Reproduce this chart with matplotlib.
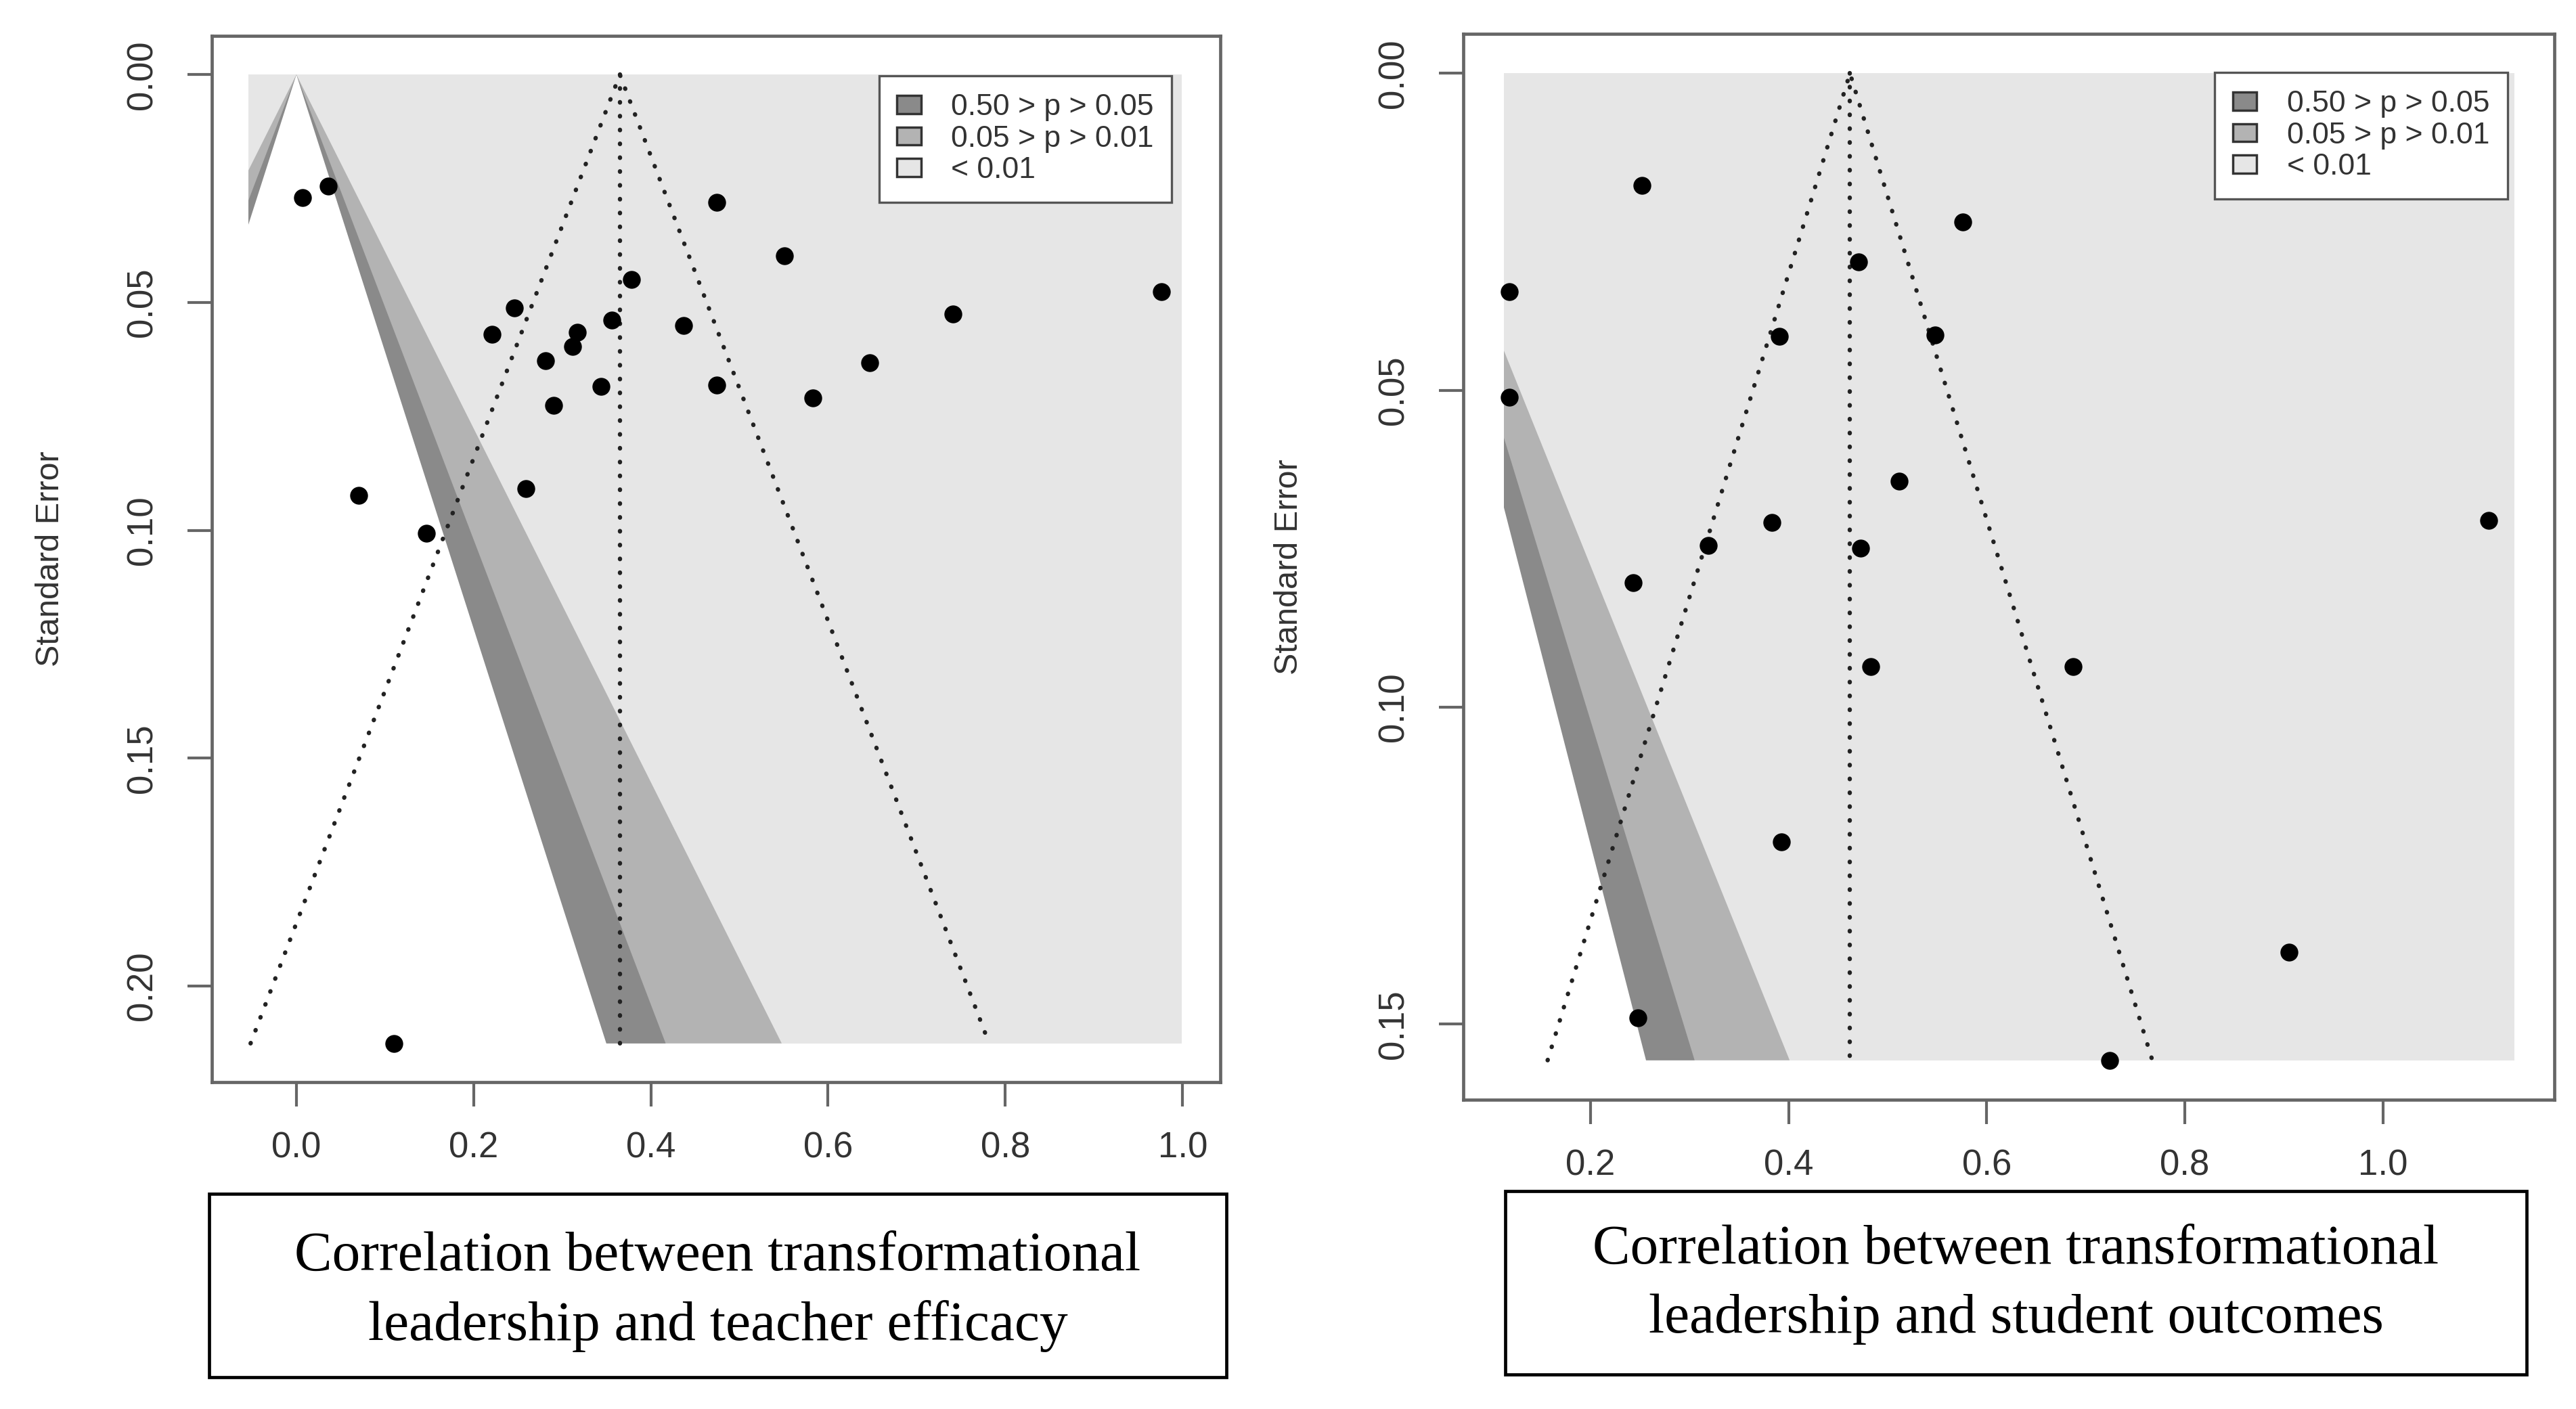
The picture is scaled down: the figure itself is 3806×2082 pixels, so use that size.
import numpy as np
import matplotlib
matplotlib.use("Agg")
import matplotlib.pyplot as plt
from matplotlib.patches import Rectangle, Polygon, Patch

# ---- data ----
# teacher efficacy panel
te_r = [0.007, 0.036, 0.474, 0.551, 0.378, 0.976, 0.246, 0.741, 0.356, 0.437,
        0.221, 0.317, 0.312, 0.281, 0.647, 0.344, 0.474, 0.583, 0.290, 0.259,
        0.070, 0.147, 0.110]
te_se = [0.0270, 0.0244, 0.0281, 0.0397, 0.0449, 0.0476, 0.0512, 0.0525, 0.0539, 0.0550,
         0.0570, 0.0565, 0.0597, 0.0628, 0.0633, 0.0684, 0.0681, 0.0710, 0.0726, 0.0909,
         0.0923, 0.1006, 0.2126]
te_est = 0.365

# student outcomes panel
so_r = [0.252, 0.576, 0.471, 0.118, 0.391, 0.548, 0.118, 0.512, 0.383, 1.107,
        0.319, 0.473, 0.243, 0.483, 0.687, 0.393, 0.905, 0.248, 0.724]
so_se = [0.0177, 0.0235, 0.0298, 0.0345, 0.0415, 0.0413, 0.0511, 0.0643, 0.0709, 0.0705,
         0.0745, 0.0749, 0.0804, 0.0936, 0.0936, 0.1213, 0.1386, 0.1490, 0.1557]
so_est = 0.462

# contour z cut-offs (p = .01, .05, .10) and their legend text
z_levels = [2.576, 1.960, 1.645]
legend_labels = ["0.50 > p > 0.05", "0.05 > p > 0.01", "< 0.01"]

te_xticks = [0.0, 0.2, 0.4, 0.6, 0.8, 1.0]
te_yticks = [0.00, 0.05, 0.10, 0.15, 0.20]
so_xticks = [0.2, 0.4, 0.6, 0.8, 1.0]
so_yticks = [0.00, 0.05, 0.10, 0.15]

captions = [
    ["Correlation between transformational", "leadership and teacher efficacy"],
    ["Correlation between transformational", "leadership and student outcomes"],
]

# ---- styling ----
W, H = 3806, 2082
C_LIGHT = "#e6e6e6"
C_MID = "#b3b3b3"
C_DARK = "#8a8a8a"
AXC = "#666666"
TXT = "#333333"

plt.rcParams["font.family"] = ["Liberation Sans", "DejaVu Sans"]


def px_axes(l, t, r, b):
    return [l / W, 1 - b / H, (r - l) / W, (b - t) / H]


def funnel(ax, r, se, est, xrect, xlim, xticks, yticks, leg_anchor):
    ymax = max(se)
    ypad = ymax * 0.04
    ax.set_xlim(*xlim)
    ax.set_ylim(ymax + ypad, -ypad)

    # background and significance contours (centred on zero)
    rect = Rectangle((xrect[0], 0), xrect[1] - xrect[0], ymax,
                     facecolor=C_LIGHT, edgecolor="none", zorder=1)
    ax.add_patch(rect)
    for z, col in zip(z_levels, [C_MID, C_DARK, "white"]):
        if col == "white":
            # outside the grey box is white anyway, so no clipping needed
            yb = ymax * 1.2
            poly = Polygon([(0, 0), (-z * yb, yb), (z * yb, yb)], closed=True,
                           facecolor=col, edgecolor="none", zorder=2)
            ax.add_patch(poly)
        else:
            poly = Polygon([(0, 0), (-z * ymax, ymax), (z * ymax, ymax)], closed=True,
                           facecolor=col, edgecolor="none", zorder=2)
            ax.add_patch(poly)
            poly.set_clip_path(rect)

    # pseudo confidence funnel
    dot = dict(color="#222222", lw=4.6, linestyle=(0, (0.1, 3.1)),
               dash_capstyle="round", zorder=3)
    ax.plot([est, est], [0, ymax], **dot)
    ax.plot([est - 1.96 * ymax, est, est + 1.96 * ymax], [ymax, 0, ymax], **dot)

    ax.plot(r, se, "o", color="black", ms=19, mec="none", zorder=4)

    for s in ax.spines.values():
        s.set_color(AXC)
        s.set_linewidth(3.4)
    ax.set_xticks(xticks)
    ax.set_xticklabels([f"{v:.1f}" for v in xticks])
    ax.set_yticks(yticks)
    ax.set_yticklabels([f"{v:.2f}" for v in yticks])
    ax.tick_params(axis="both", length=26, width=3, color=AXC,
                   labelsize=38, labelcolor=TXT)
    ax.tick_params(axis="x", pad=26)
    ax.tick_params(axis="y", pad=30, labelrotation=90)
    for lab in ax.get_yticklabels():
        lab.set_va("center")

    ax.text(-0.16, 0.5, "Standard Error", transform=ax.transAxes, rotation=90,
            ha="center", va="center", fontsize=35, color=TXT)

    handles = [Patch(facecolor=c, edgecolor="#333333", lw=2.5)
               for c in [C_DARK, C_MID, C_LIGHT]]
    leg = ax.legend(handles, legend_labels, loc="upper right", bbox_to_anchor=leg_anchor,
                    borderaxespad=0, fontsize=32, frameon=True, fancybox=False,
                    edgecolor="#555555", framealpha=1, handlelength=0.8,
                    handleheight=0.55, handletextpad=1.0, labelspacing=0.12,
                    borderpad=0.6)
    leg.get_frame().set_linewidth(2.4)
    for t in leg.get_texts():
        t.set_color(TXT)


fig = plt.figure(figsize=(W / 100, H / 100), dpi=100)

ax1 = fig.add_axes(px_axes(313, 53, 1803, 1599))
funnel(ax1, te_r, te_se, te_est, (-0.054, 0.999), (-0.0954, 1.0426),
       te_xticks, te_yticks, (0.952, 0.962))

ax2 = fig.add_axes(px_axes(2162, 50, 3774, 1625))
funnel(ax2, so_r, so_se, so_est, (0.1125, 1.1325), (0.0717, 1.173),
       so_xticks, so_yticks, (0.957, 0.964))

# caption boxes under each panel
boxes = [(309, 1764, 1812, 2035), (2224, 1760, 3733, 2031)]
line_y = [(1857, 1959), (1847, 1949)]
for (l, t, r, b), lines, ys in zip(boxes, captions, line_y):
    fig.add_artist(Rectangle((l / W, 1 - b / H), (r - l) / W, (b - t) / H,
                             transform=fig.transFigure, facecolor="white",
                             edgecolor="black", lw=3.4))
    for line, y in zip(lines, ys):
        fig.text((l + r) / 2 / W, 1 - y / H, line, ha="center", va="center",
                 fontsize=60, family="Liberation Serif", color="black")

fig.savefig("out.png", dpi=100)
